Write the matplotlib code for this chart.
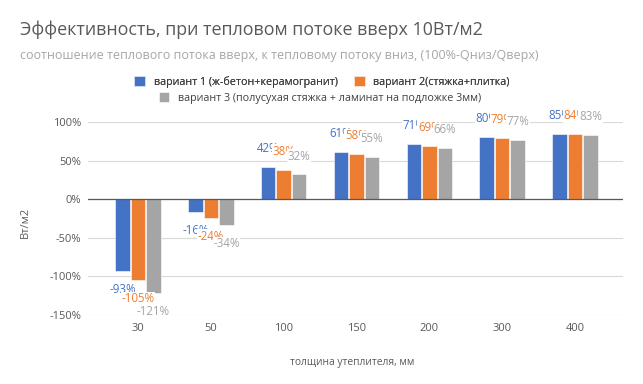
import numpy as np
import matplotlib
matplotlib.use('Agg')
import matplotlib.pyplot as plt
from matplotlib.ticker import FuncFormatter

plt.rcParams['font.family'] = ['Open Sans', 'DejaVu Sans']

# толщина утеплителя, мм
kategorii = ['30', '50', '100', '150', '200', '300', '400']
variant1 = [-93, -16, 42, 61, 71, 80, 85]
variant2 = [-105, -24, 38, 58, 69, 79, 84]
variant3 = [-121, -34, 32, 55, 66, 77, 83]
nazvaniya = ['вариант 1 (ж-бетон+керамогранит)',
             'вариант 2(стяжка+плитка)',
             'вариант 3 (полусухая стяжка + ламинат на подложке 3мм)']
cveta = ['#4472C4', '#ED7D31', '#A5A5A5']

fig = plt.figure(figsize=(6.43, 3.84), dpi=100)
ax = fig.add_axes([88 / 643, 69 / 384, 535 / 643, 193 / 384])

x = np.arange(len(kategorii))
shag = 0.213
shirina = 0.2
bary = []
for i, (vals, cvet, name) in enumerate(zip([variant1, variant2, variant3], cveta, nazvaniya)):
    pos = x + (i - 1) * shag
    b = ax.bar(pos, vals, width=shirina, color=cvet, edgecolor='white', linewidth=0.4,
               label=name, zorder=2)
    bary.append(b)

# подписи данных (каждая следующая перекрывает предыдущую)
for i, (vals, cvet) in enumerate(zip([variant1, variant2, variant3], cveta)):
    pos = x + (i - 1) * shag
    for xp, v in zip(pos, vals):
        dy = 13.3 if v >= 0 else -13.3
        ax.annotate(f'{v}%', (xp, v), xytext=(0, dy), textcoords='offset points',
                    ha='center', va='center', fontsize=8.3, color=cvet, zorder=5 + i,
                    bbox=dict(boxstyle='square,pad=0.05', fc='white', ec='none'))

ax.set_xlim(-0.687, 6.66)
ax.set_ylim(-150, 100)
ax.set_yticks([-150, -100, -50, 0, 50, 100])
ax.yaxis.set_major_formatter(FuncFormatter(lambda v, p: f'{v:.0f}%'))
ax.set_xticks(x)
ax.set_xticklabels(kategorii)
ax.grid(axis='y', color='#D9D9D9', linewidth=0.8, zorder=0)
ax.axhline(0, color='#595959', linewidth=0.9, zorder=3)
for s in ax.spines.values():
    s.set_visible(False)
ax.tick_params(length=0, labelsize=8.0, labelcolor='#595959')
ax.tick_params(axis='x', pad=6)
ax.tick_params(axis='y', pad=5)

fig.text(25 / 643, 1 - 222 / 384, 'Вт/м2', rotation=90, ha='center', va='center',
         fontsize=8.0, color='#595959')
fig.text(352 / 643, 1 - 363 / 384, 'толщина утеплителя, мм', ha='center', va='center',
         fontsize=7.4, color='#595959')

fig.text(20 / 643, 1 - 30 / 384, 'Эффективность, при тепловом потоке вверх 10Вт/м2',
         ha='left', va='center', fontsize=12.9, color='#595959')
fig.text(20 / 643, 1 - 56 / 384,
         'соотношение теплового потока вверх, к тепловому потоку вниз, (100%-Qниз/Qверх)',
         ha='left', va='center', fontsize=9.0, color='#A6A6A6')

leg1 = fig.legend(handles=[bary[0], bary[1]], loc='center', bbox_to_anchor=(322 / 643, 1 - 82 / 384),
                  ncol=2, frameon=False, fontsize=7.75, handlelength=1.0, handleheight=1.0,
                  handletextpad=0.8, columnspacing=1.5, borderpad=0, labelcolor='#404040')
fig.add_artist(leg1)
fig.legend(handles=[bary[2]], loc='center', bbox_to_anchor=(320 / 643, 1 - 98 / 384),
           frameon=False, fontsize=7.75, handlelength=1.0, handleheight=1.0,
           handletextpad=0.8, borderpad=0, labelcolor='#404040')

fig.savefig('out.png', dpi=100)
